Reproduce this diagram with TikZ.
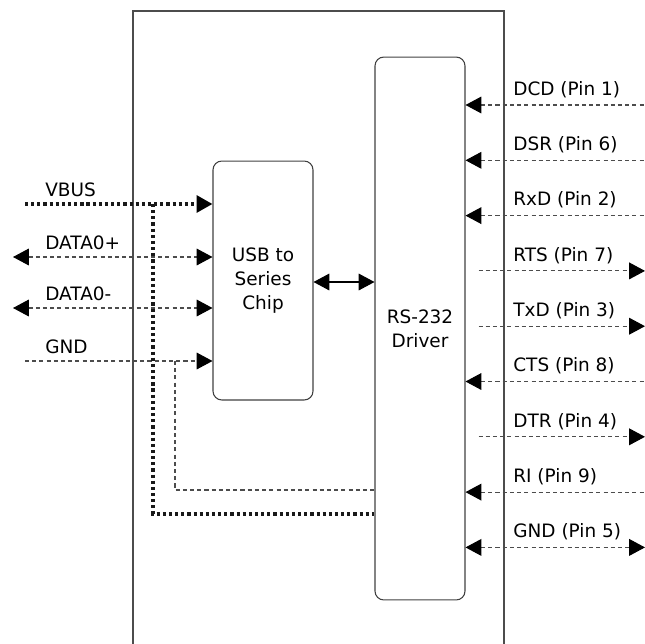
\documentclass[tikz,border=0pt]{standalone}
\usepackage{fontspec}
\setmainfont{DejaVu Sans}
\usetikzlibrary{arrows.meta}
\tikzset{
    tip/.tip={Triangle[length=9pt, width=9.5pt, color=black]},
    blk/.style={draw=black!75, line width=0.6pt, rounded corners=5pt, align=center, inner sep=0pt},
    sig/.style={draw=black!70, line width=0.6pt, dash pattern=on 2.3pt off 1.8pt},
    pwr/.style={draw=black!90, line width=2pt, dash pattern=on 1.8pt off 1.7pt},
    sigin/.style={sig, tip-},
    sigout/.style={sig, -tip, shorten <=7.4pt},
    sigbi/.style={sig, tip-tip},
    lbl/.style={anchor=south west, inner sep=0pt, font=\fontsize{10.5}{12}\selectfont}
}
\begin{document}
\begin{tikzpicture}[x=0.02cm, y=-0.02cm]
    \useasboundingbox (0,0) rectangle (645,643);
    % outer case
    \draw[black!70, line width=0.6pt] (133,660) -- (133,11) -- (504,11) -- (504,660);
    % blocks
    \node[blk, minimum width=2cm, minimum height=4.78cm, font=\fontsize{10.5}{13.5}\selectfont] (usb) at (263,280.5) {USB to\\Series\\Chip};
    \node[blk, minimum width=1.8cm, minimum height=10.86cm, font=\fontsize{10.5}{13.5}\selectfont] (drv) at (420,328.5) {RS-232\\Driver};
    \draw[black, line width=0.6pt, tip-tip] (usb.east |- 0,282) -- (drv.west |- 0,282);
    % usb side
    \coordinate (vbus) at (25,204);
    \coordinate (dp) at (13,257);
    \coordinate (dm) at (13,308);
    \coordinate (gnd) at (25,361);
    \coordinate (vtap) at (153,204);
    \coordinate (gtap) at (175,361);
    \draw[pwr, -tip] (vbus) -- (usb.west |- vbus);
    \draw[sigbi] (dp) -- (usb.west |- dp);
    \draw[sigbi] (dm) -- (usb.west |- dm);
    \draw[sig, -tip] (gnd) -- (usb.west |- gnd);
    \draw[pwr] (vtap) -- (153,514) -- (drv.west |- 0,514);
    \draw[sig] (gtap) -- (175,490) -- (drv.west |- 0,490);
    \node[lbl] at (45,197) {VBUS};
    \node[lbl] at (45,250) {DATA0+};
    \node[lbl] at (45,301) {DATA0-};
    \node[lbl] at (45,354) {GND};
    % serial side
    \foreach \nm/\pin/\st [count=\i from 0] in {DCD/1/sigin, DSR/6/sigin, RxD/2/sigin,
        RTS/7/sigout, TxD/3/sigout, CTS/8/sigin, DTR/4/sigout, RI/9/sigin, GND/5/sigbi}{
        \coordinate (p\i) at (drv.east |- 0,{105+55.3*\i});
        \coordinate (q\i) at (645,{105+55.3*\i});
        \draw[\st] (p\i) -- (q\i);
        \node[lbl] at (513,{98+55.3*\i}) {\nm\ (Pin \pin)};
    }
\end{tikzpicture}
\end{document}
